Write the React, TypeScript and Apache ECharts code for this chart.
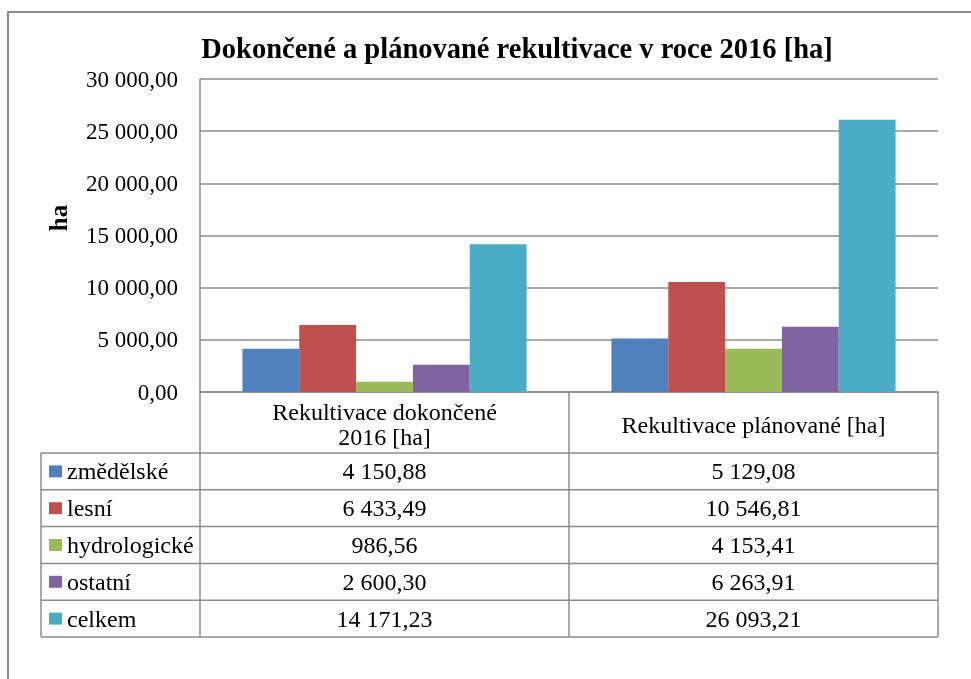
import React, { useEffect, useRef } from "react";
import * as echarts from "echarts";

const titleText = "Dokončené a plánované rekultivace v roce 2016 [ha]";
const yAxisName = "ha";
const categories = ["Rekultivace dokončené\n2016 [ha]", "Rekultivace plánované [ha]"];
const seriesNames = ["změdělské", "lesní", "hydrologické", "ostatní", "celkem"];
const seriesColors = ["#4F81BD", "#C0504D", "#9BBB59", "#8064A2", "#4BACC6"];
const zemedelske = [4150.88, 5129.08];
const lesni = [6433.49, 10546.81];
const hydrologicke = [986.56, 4153.41];
const ostatni = [2600.3, 6263.91];
const celkem = [14171.23, 26093.21];
const seriesValues = [zemedelske, lesni, hydrologicke, ostatni, celkem];
const yMin = 0;
const yMax = 30000;
const yStep = 5000;

function fmt(v: number): string {
  const [i, d] = v.toFixed(2).split(".");
  const grouped = i.replace(/\B(?=(\d{3})+(?!\d))/g, " ");
  return grouped + "," + d;
}

const FONT = "Liberation Serif";
const FONT_TITLE = "'Times New Roman', serif";
const FONT_AXIS = "serif";
const GRID_L = 200;
const GRID_R = 938;
const GRID_T = 79;
const GRID_B = 392;
const HEADER_B = 453;
const ROW_H = 36.8;
const TABLE_L = 41;
const LINE = "#8c8c8c";

export default function App() {
  const ref = useRef<HTMLDivElement>(null);
  useEffect(() => {
    if (!ref.current) return;
    const chart = echarts.init(ref.current, null, { renderer: "svg" });
    const colW = (GRID_R - GRID_L) / categories.length;
    const graphics: any[] = [];
    graphics.push({
      type: "rect",
      shape: { x: 8, y: 12, width: 1200, height: 1000 },
      style: { fill: "none", stroke: "#8a8a8a", lineWidth: 2 },
      silent: true,
    });
    graphics.push({
      type: "text",
      x: 58,
      y: 218,
      rotation: Math.PI / 2,
      style: {
        text: yAxisName,
        fontFamily: FONT,
        fontWeight: "bold",
        fontSize: 25,
        fill: "#000",
        align: "center",
        verticalAlign: "middle",
      },
    });
    const nRows = seriesNames.length;
    const tableBottom = HEADER_B + ROW_H * nRows;
    const lines: number[][] = [];
    for (let c = 0; c <= categories.length; c++) {
      const x = GRID_L + c * colW;
      lines.push([x, GRID_B, x, tableBottom]);
    }
    lines.push([TABLE_L, HEADER_B, TABLE_L, tableBottom]);
    for (let r = 0; r <= nRows; r++) {
      const y = HEADER_B + r * ROW_H;
      lines.push([TABLE_L, y, GRID_R, y]);
    }
    lines.forEach(([x1, y1, x2, y2]) =>
      graphics.push({
        type: "line",
        shape: { x1, y1, x2, y2 },
        style: { stroke: LINE, lineWidth: 1.5 },
        silent: true,
      })
    );
    categories.forEach((cat, c) => {
      graphics.push({
        type: "text",
        x: GRID_L + (c + 0.5) * colW,
        y: (GRID_B + HEADER_B) / 2 + 2,
        style: {
          text: cat,
          fontFamily: FONT,
          fontSize: 24,
          fill: "#000",
          align: "center",
          verticalAlign: "middle",
          lineHeight: 25,
        },
      });
    });
    seriesNames.forEach((name, r) => {
      const cy = HEADER_B + (r + 0.5) * ROW_H;
      graphics.push({
        type: "rect",
        shape: { x: 49, y: cy - 6, width: 13, height: 12 },
        style: { fill: seriesColors[r] },
      });
      graphics.push({
        type: "text",
        x: 67,
        y: cy,
        style: {
          text: name,
          fontFamily: FONT,
          fontSize: 24,
          fill: "#000",
          align: "left",
          verticalAlign: "middle",
        },
      });
      seriesValues[r].forEach((v, c) => {
        graphics.push({
          type: "text",
          x: GRID_L + (c + 0.5) * colW,
          y: cy,
          style: {
            text: fmt(v),
            fontFamily: FONT,
            fontSize: 24,
            fill: "#000",
            align: "center",
            verticalAlign: "middle",
          },
        });
      });
    });

    chart.setOption({
      animation: false,
      title: {
        text: titleText,
        left: 512,
        top: 29,
        textAlign: "center",
        textStyle: { fontFamily: FONT_TITLE, fontWeight: "bold", fontSize: 28.5, color: "#000" },
      },
      grid: {
        left: GRID_L,
        right: 971 - GRID_R,
        top: GRID_T,
        bottom: 679 - GRID_B,
        containLabel: false,
      },
      xAxis: {
        type: "category",
        data: categories,
        axisLabel: { show: false },
        axisTick: { show: false },
        axisLine: { show: true, lineStyle: { color: LINE, width: 1.5 } },
      },
      yAxis: {
        type: "value",
        min: yMin,
        max: yMax,
        interval: yStep,
        axisLine: { show: true, lineStyle: { color: LINE, width: 1.5 } },
        axisTick: { show: false },
        splitLine: { show: true, lineStyle: { color: LINE, width: 1.5 } },
        axisLabel: {
          margin: 22,
          fontFamily: FONT_AXIS,
          fontSize: 23,
          color: "#000",
          formatter: (v: number) => fmt(v),
        },
      },
      series: seriesNames.map((name, i) => ({
        type: "bar",
        name,
        data: seriesValues[i],
        itemStyle: { color: seriesColors[i] },
        barGap: "0%",
        barCategoryGap: "23%",
      })),
      graphic: graphics,
    });
    return () => chart.dispose();
  }, []);
  return (
    <div
      ref={ref}
      style={{ position: "fixed", left: 0, top: 0, width: 971, height: 679 }}
    />
  );
}
